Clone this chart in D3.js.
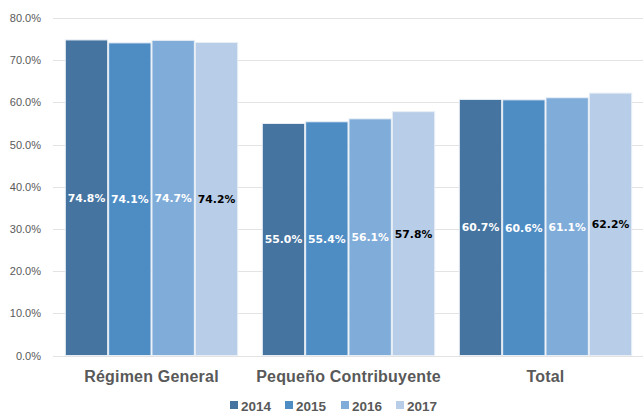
<!DOCTYPE html>
<html><head><meta charset="utf-8">
<script src="https://cdn.jsdelivr.net/npm/d3@7"></script>
<style>body{margin:0;background:#fff}svg{display:block}</style>
</head><body><svg id="c" width="643" height="412"></svg>
<script>
const categories = ["Régimen General", "Pequeño Contribuyente", "Total"];
const years = ["2014", "2015", "2016", "2017"];
const v2014 = [74.8, 55.0, 60.7];
const v2015 = [74.1, 55.4, 60.6];
const v2016 = [74.7, 56.1, 61.1];
const v2017 = [74.2, 57.8, 62.2];
const yTicks = [0, 10, 20, 30, 40, 50, 60, 70, 80];
const colors = ["#4574a0", "#4e8cc4", "#80acd9", "#b8cde8"];
const labelColors = ["#ffffff", "#ffffff", "#ffffff", "#000000"];

const series = [v2014, v2015, v2016, v2017];
const svg = d3.select("#c");
const x0 = d3.scaleBand().domain(categories).range([53, 644]).paddingInner(0.12).paddingOuter(0.06);
const x1 = d3.scaleBand().domain(years).range([0, x0.bandwidth()]).padding(0);
const y = d3.scaleLinear().domain([0, 80]).range([355.5, 18]);

// gridlines
svg.append("g").selectAll("line").data(yTicks).join("line")
  .attr("x1", 53).attr("x2", 643)
  .attr("y1", d => Math.round(y(d)) + 0.5).attr("y2", d => Math.round(y(d)) + 0.5)
  .attr("stroke", "#e3e3e3").attr("stroke-width", 1);

// y axis labels
svg.append("g").selectAll("text").data(yTicks).join("text")
  .attr("x", 41).attr("y", d => y(d) + 4)
  .attr("text-anchor", "end")
  .attr("font-family", "Liberation Sans, Arial, sans-serif")
  .attr("font-size", 11).attr("fill", "#595959")
  .text(d => d.toFixed(1) + "%");

// bars
const groups = svg.append("g").selectAll("g").data(categories).join("g")
  .attr("transform", d => `translate(${x0(d)},0)`);
groups.each(function(cat, ci) {
  const g = d3.select(this);
  years.forEach((yr, si) => {
    const val = series[si][ci];
    g.append("rect")
      .attr("x", x1(yr) + 0.5).attr("width", x1.bandwidth() - 1)
      .attr("y", y(val)).attr("height", y(0) - y(val))
      .attr("fill", colors[si]).attr("stroke", "#e8eef6").attr("stroke-width", 1);
    g.append("text")
      .attr("x", x1(yr) + x1.bandwidth() / 2)
      .attr("y", (y(val) + y(0)) / 2 + 4)
      .attr("text-anchor", "middle")
      .attr("font-family", "DejaVu Sans, Verdana, sans-serif")
      .attr("font-weight", "bold").attr("font-size", 10.8)
      .attr("fill", labelColors[si])
      .text(val.toFixed(1) + "%");
  });
});

// category labels
svg.append("g").selectAll("text").data(categories).join("text")
  .attr("x", d => x0(d) + x0.bandwidth() / 2).attr("y", 382)
  .attr("text-anchor", "middle")
  .attr("font-family", "Liberation Sans, Arial, sans-serif")
  .attr("font-weight", "bold").attr("font-size", 16).attr("letter-spacing", 0.2)
  .attr("fill", "#595959")
  .text(d => d);

// legend
const legX = [230, 285, 341, 396];
const leg = svg.append("g").selectAll("g").data(years).join("g")
  .attr("transform", (d, i) => `translate(${legX[i]},0)`);
leg.append("rect").attr("x", 0).attr("y", 401).attr("width", 8).attr("height", 8)
  .attr("fill", (d, i) => colors[i]);
leg.append("text").attr("x", 11).attr("y", 410.5)
  .attr("font-family", "Liberation Sans Narrow, Liberation Sans, Arial, sans-serif")
  .attr("font-weight", "bold").attr("font-size", 13.5).attr("fill", "#595959")
  .text(d => d);
</script></body></html>
